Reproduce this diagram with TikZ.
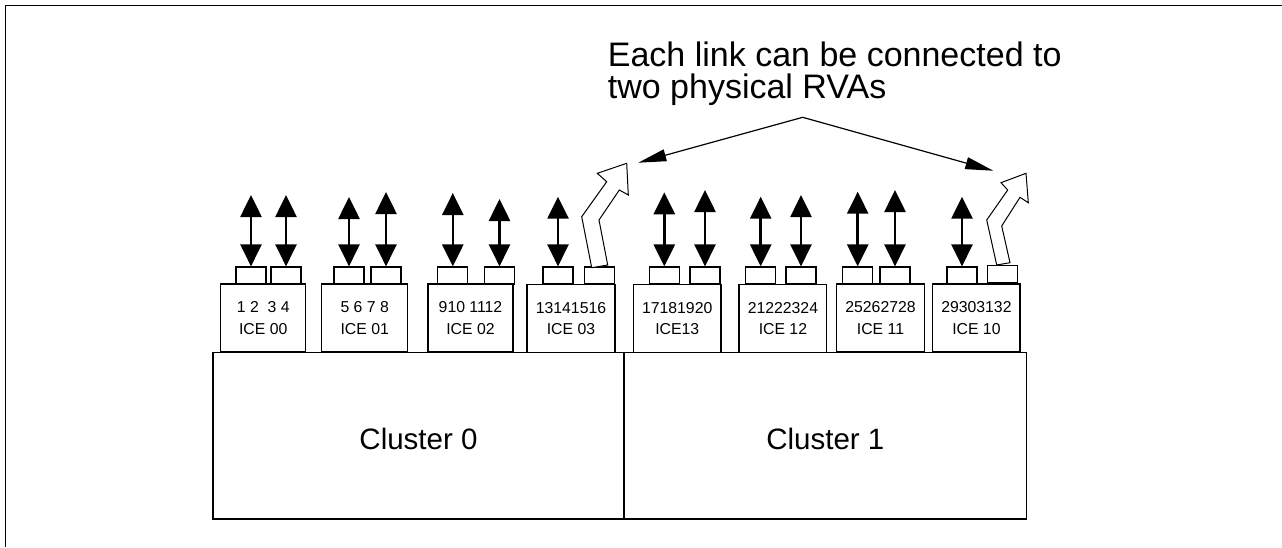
\documentclass[tikz,border=0pt]{standalone}
\usepackage{fontspec}
\setmainfont{Liberation Sans}
\usetikzlibrary{arrows.meta}
\begin{document}
\begin{tikzpicture}[x=1pt,y=-1pt,
  box/.style={draw, line width=1.2pt, fill=white, inner sep=0pt},
  icebox/.style={box, minimum height=68pt, align=center, font=\fontsize{15.8}{21.7}\selectfont},
  port/.style={box, minimum width=30pt, minimum height=17pt},
  cluster/.style={box, minimum height=166.3pt, text height=28pt, font=\fontsize{29.5}{32}\selectfont},
  link/.style={line width=2.6pt, {Triangle[length=22pt,width=21pt]}-{Triangle[length=22pt,width=21pt]}},
  callout/.style={line width=1.2pt, -{Triangle[length=28pt,width=12pt]}},
  hollow/.style={draw, fill=white, line width=1pt, line join=miter},
  titletext/.style={anchor=base west, inner sep=0pt, font=\fontsize{34}{36}\selectfont},
]
\useasboundingbox (0,0) rectangle (1282,547);
% outer frame
\draw[line width=1.5pt] (5.5,547) -- (5.5,5.5) -- (1282,5.5);

% clusters
\node[cluster, minimum width=411pt] (c0) at (418.5,435.9) {Cluster 0};
\node[cluster, minimum width=402.7pt] (c1) at (825.35,435.9) {Cluster 1};

% ICE boxes
\node[icebox, minimum width=85pt] (ice00) at (263.2,318) {1 2\ \ 3 4\\ICE 00};
\node[icebox, minimum width=86pt] (ice01) at (364.7,318) {5 6 7 8\\ICE 01};
\node[icebox, minimum width=85pt] (ice02) at (470.5,318) {910 1112\\ICE 02};
\node[icebox, minimum width=88pt] (ice03) at (571,318.5) {13141516\\ICE 03};
\node[icebox, minimum width=87.7pt] (ice13) at (677.2,318.5) {17181920\\ICE13};
\node[icebox, minimum width=87.7pt] (ice12) at (782.9,318.5) {21222324\\ICE 12};
\node[icebox, minimum width=87.6pt] (ice11) at (880.5,318) {25262728\\ICE 11};
\node[icebox, minimum width=87.3pt] (ice10) at (976.4,318) {29303132\\ICE 10};

% ports
\node[port] (p00a) at (251,275.5) {};
\node[port] (p00b) at (286,275.5) {};
\node[port] (p01a) at (349,275.5) {};
\node[port] (p01b) at (386,275.5) {};
\node[port] (p02a) at (452.8,275.5) {};
\node[port] (p02b) at (499.5,275.5) {};
\node[port] (p03a) at (558,275.5) {};
\node[port] (p03b) at (599.5,275.5) {};
\node[port] (p13a) at (664.3,275.5) {};
\node[port] (p13b) at (705,275.5) {};
\node[port] (p12a) at (760.7,275.5) {};
\node[port] (p12b) at (801,275.5) {};
\node[port] (p11a) at (857.7,275.5) {};
\node[port] (p11b) at (895,275.5) {};
\node[port] (p10a) at (962,275.5) {};
\node[port] (p10b) at (1002.7,273.8) {};

% link ends
\coordinate (t00a) at (251,195);
\coordinate (t00b) at (286,195);
\coordinate (t01a) at (349,197);
\coordinate (t01b) at (386,192);
\coordinate (t02a) at (452.8,193);
\coordinate (t02b) at (499.5,199);
\coordinate (t03a) at (558,196.7);
\coordinate (t13a) at (664.3,192.3);
\coordinate (t13b) at (705,190);
\coordinate (t12a) at (760.7,196.7);
\coordinate (t12b) at (801,195);
\coordinate (t11a) at (857.7,191.7);
\coordinate (t11b) at (895,190);
\coordinate (t10a) at (962,196.7);

\foreach \p in {00a,00b,01a,01b,02a,02b,03a,13a,13b,12a,12b,11a,11b,10a}
  \draw[link] (p\p.north) -- (t\p);

% hollow bent arrows
\draw[hollow] (591.7,267.7) -- (581.7,216.7) -- (606.7,181.7) -- (597.3,173.3)
  -- (626.7,163.3) -- (628.3,195) -- (619.3,190) -- (599,220) -- (607.7,265) -- cycle;
\draw[hollow] (996.7,265) -- (986.7,220) -- (1007.7,190) -- (1001,182.7)
  -- (1026,173.3) -- (1028.3,202.7) -- (1020,197.3) -- (1001.7,226) -- (1010,262.7) -- cycle;

% title and callout
\node[titletext] (title1) at (607.7,66.7) {Each link can be connected to};
\node[titletext] (title2) at (607.7,98.3) {two physical RVAs};
\coordinate (apex) at (802.7,117.3);
\coordinate (tipL) at (638.3,162.7);
\coordinate (tipR) at (993.3,170.7);
\draw[callout] (apex) -- (tipL);
\draw[callout] (apex) -- (tipR);
\end{tikzpicture}
\end{document}
